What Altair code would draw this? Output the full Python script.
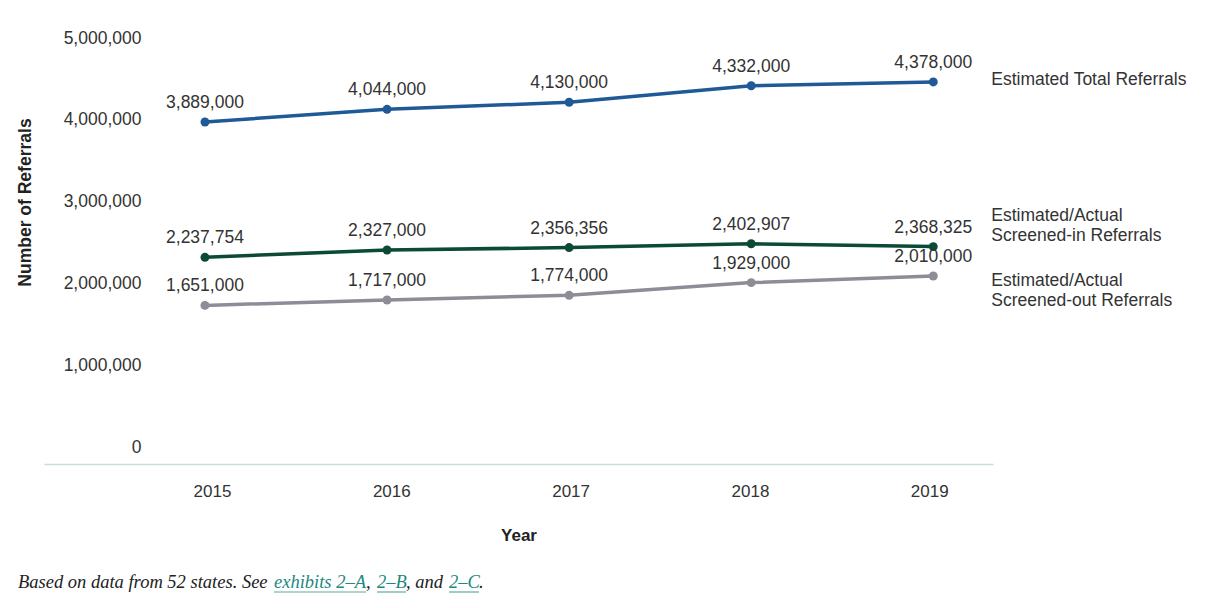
import altair as alt
import pandas as pd

years = [2015, 2016, 2017, 2018, 2019]
total = [3889000, 4044000, 4130000, 4332000, 4378000]
screened_in = [2237754, 2327000, 2356356, 2402907, 2368325]
screened_out = [1651000, 1717000, 1774000, 1929000, 2010000]

series_names = [
    "Estimated Total Referrals",
    "Estimated/Actual Screened-in Referrals",
    "Estimated/Actual Screened-out Referrals",
]
series_labels = [
    "Estimated Total Referrals",
    "Estimated/Actual\nScreened-in Referrals",
    "Estimated/Actual\nScreened-out Referrals",
]
colors = ["#1f5a96", "#0b4a37", "#8c8d97"]
y_ticks = [0, 1000000, 2000000, 3000000, 4000000, 5000000]

footnote_parts = [
    "Based on data from 52 states. See ",
    "exhibits 2\u2013A",
    ", ",
    "2\u2013B",
    ", and ",
    "2\u2013C",
    ".",
]

FONT = "Liberation Sans"
SERIF = "Liberation Serif"
TEXT_COLOR = "#333333"
LINK = "#1b8a80"

rows = []
for name, vals in zip(series_names, [total, screened_in, screened_out]):
    for yr, v in zip(years, vals):
        rows.append({"series": name, "year": yr, "value": v})
df = pd.DataFrame(rows)

end_df = pd.DataFrame({
    "series": series_names,
    "label": series_labels,
    "year": [years[-1]] * 3,
    "value": [total[-1], screened_in[-1], screened_out[-1]],
})

x = alt.X(
    "year:Q",
    scale=alt.Scale(domain=[2014.116, 2019.328], nice=False, zero=False),
    axis=alt.Axis(
        values=years, format="d", title="Year", ticks=False, grid=False,
        domainColor="#c6ddd9", domainWidth=1.5, labelPadding=19,
        labelFontSize=17, labelColor=TEXT_COLOR, labelFont=FONT,
        labelOffset={"expr": "7 - 2.75 * (datum.value - 2015)"},
        titleFont=FONT, titleFontSize=17, titleFontWeight="bold",
        titleColor="#222222", titlePadding=28,
    ),
)
y = alt.Y(
    "value:Q",
    scale=alt.Scale(domain=[-285000, 5000000], nice=False, zero=False),
    axis=alt.Axis(
        values=y_ticks, format=",.0f", title="Number of Referrals", ticks=False,
        grid=False, domain=False, offset=-97, labelPadding=0, labelOffset=7,
        labelFontSize=17.5, labelColor=TEXT_COLOR, labelFont=FONT,
        titleFont=FONT, titleFontSize=17.5, titleFontWeight="bold",
        titleColor="#222222", titleX=-116, titleY=171, titleAngle=270,
        titleAlign="center", titleBaseline="middle",
    ),
)
color = alt.Color(
    "series:N", scale=alt.Scale(domain=series_names, range=colors), legend=None
)

base = alt.Chart(df).encode(x=x, y=y, color=color)
lines = base.mark_line(strokeWidth=3.5)
points = base.mark_circle(size=80, opacity=1)
values = base.mark_text(
    dy=-19, fontSize=17.5, font=FONT, color=TEXT_COLOR, baseline="middle"
).encode(text=alt.Text("value:Q", format=",.0f"), color=alt.value(TEXT_COLOR))

end_layers = []
for name, dy in zip(series_names, [-2, -31, 5]):
    end_layers.append(
        alt.Chart(end_df)
        .transform_filter(alt.datum.series == name)
        .mark_text(
            align="left", baseline="middle", dx=58, dy=dy, fontSize=17.5,
            font=FONT, color=TEXT_COLOR, lineBreak="\n", lineHeight=20,
        )
        .encode(x=x, y=y, text="label:N")
    )

one = pd.DataFrame({"k": [0]})
foot_x = [-26, 230, 322, 333, 362, 405, 435]
foot_layers = []
for i, (part, fx) in enumerate(zip(footnote_parts, foot_x)):
    is_link = i in (1, 3, 5)
    foot_layers.append(
        alt.Chart(one)
        .mark_text(
            text=part, align="left", baseline="alphabetic", font=SERIF,
            fontStyle="italic", fontSize=18.5,
            color=LINK if is_link else "#222222",
        )
        .encode(x=alt.value(fx), y=alt.value(557))
    )
for x1, x2 in [(230, 322), (333, 362), (405, 435)]:
    foot_layers.append(
        alt.Chart(one)
        .mark_rule(color="#5fa9a1", strokeWidth=1.2)
        .encode(x=alt.value(x1), x2=alt.value(x2), y=alt.value(561))
    )
foot_layers.append(
    alt.Chart(one)
    .mark_rule(color="#d3e2e5", strokeWidth=2)
    .encode(x=alt.value(-36), x2=alt.value(1161), y=alt.value(575))
)

chart = (
    alt.layer(lines, points, values, *end_layers, *foot_layers)
    .properties(
        width=949, height=433,
        autosize=alt.AutoSizeParams(type="none"),
        padding={"left": 36, "top": 23, "right": 212, "bottom": 136},
        background="white",
    )
    .configure_view(strokeWidth=0, stroke="transparent")
)

chart.save("out.html", embed_options={"renderer": "svg", "actions": False})
